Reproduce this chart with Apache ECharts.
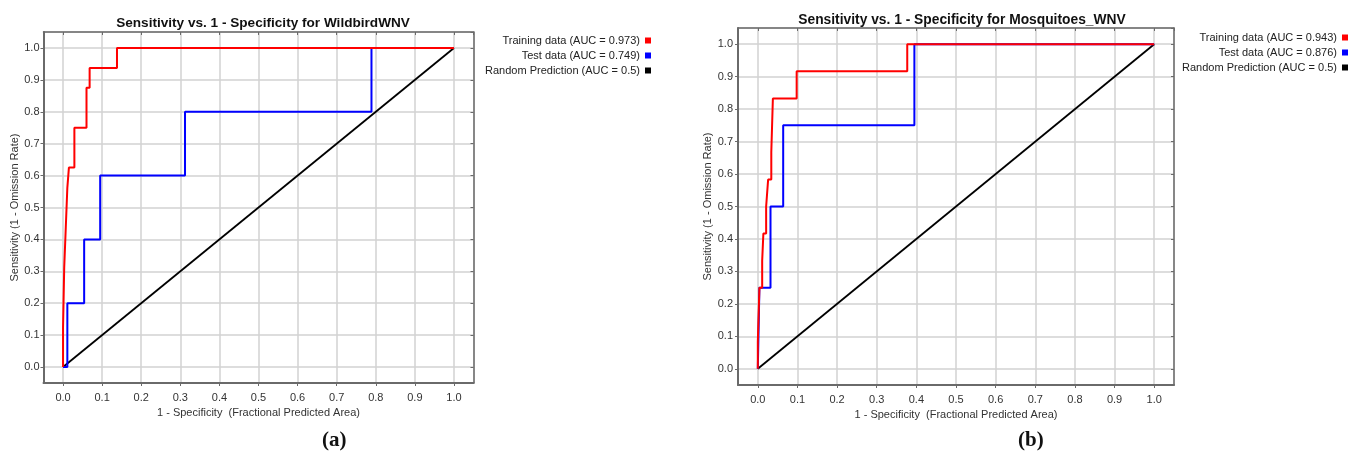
<!DOCTYPE html>
<html>
<head>
<meta charset="utf-8">
<script src="https://cdn.jsdelivr.net/npm/echarts@6/dist/echarts.min.js"></script>
<style>
  html, body { margin: 0; padding: 0; background: #fff; }
  #chart { width: 1358px; height: 458px; }
</style>
</head>
<body>
<div id="chart"></div>
<script>
// ROC 曲线数据 (1 - specificity, sensitivity)
var wildTrain = [[0,0],[0,0.125],[0.003,0.125],[0.003,0.3125],[0.007,0.3125],[0.007,0.4375],[0.011,0.4375],[0.011,0.5625],[0.015,0.5625],[0.015,0.625],[0.029,0.625],[0.029,0.75],[0.06,0.75],[0.06,0.875],[0.068,0.875],[0.068,0.9375],[0.138,0.9375],[0.138,1],[1,1]];
var wildTest = [[0,0],[0.011,0],[0.011,0.2],[0.054,0.2],[0.054,0.4],[0.095,0.4],[0.095,0.6],[0.312,0.6],[0.312,0.8],[0.789,0.8],[0.789,1],[1,1]];
var mosqTrain = [[0,0],[0,0.083],[0.002,0.083],[0.002,0.167],[0.004,0.167],[0.004,0.25],[0.011,0.25],[0.011,0.333],[0.014,0.333],[0.014,0.417],[0.021,0.417],[0.021,0.5],[0.026,0.5],[0.026,0.583],[0.034,0.583],[0.034,0.667],[0.038,0.667],[0.038,0.833],[0.098,0.833],[0.098,0.917],[0.377,0.917],[0.377,1],[1,1]];
var mosqTest = [[0,0],[0.004,0],[0.004,0.25],[0.032,0.25],[0.032,0.5],[0.064,0.5],[0.064,0.75],[0.395,0.75],[0.395,1],[1,1]];
var randomLine = [[0,0],[1,1]];

var titles = ['Sensitivity vs. 1 - Specificity for WildbirdWNV', 'Sensitivity vs. 1 - Specificity for Mosquitoes_WNV'];
var legendNames = [
    ['Training data (AUC = 0.973)', 'Test data (AUC = 0.749)', 'Random Prediction (AUC = 0.5)'],
    ['Training data (AUC = 0.943)', 'Test data (AUC = 0.876)', 'Random Prediction (AUC = 0.5)']
];
var panelLabels = ['(a)', '(b)'];
var xName = '1 - Specificity  (Fractional Predicted Area)';
var yName = 'Sensitivity (1 - Omission Rate)';

var font = 'Liberation Sans, Arial, sans-serif';
var borderColor = '#6a6a6a';

function mainX(grid, gap){
    return {
        type: 'value', gridIndex: grid, position: 'bottom',
        min: -0.05, max: 1.05, splitNumber: 11,
        name: xName, nameLocation: 'middle', nameGap: gap,
        nameTextStyle: {fontFamily: font, fontSize: 11, color: '#333'},
        axisLine: {show: true, onZero: false, lineStyle: {color: borderColor, width: 2}},
        axisTick: {show: true, length: 3, lineStyle: {color: borderColor}},
        axisLabel: {
            fontFamily: font, fontSize: 11, color: '#333', margin: 9,
            showMinLabel: false, showMaxLabel: false,
            formatter: function(v){ return v.toFixed(1); }
        },
        splitLine: {show: true, lineStyle: {color: '#d2d2d2', width: 1.5}}
    };
}
function mainY(grid, gap, margin){
    return {
        type: 'value', gridIndex: grid, position: 'left',
        min: -0.05, max: 1.05, splitNumber: 11,
        name: yName, nameLocation: 'middle', nameGap: gap,
        nameTextStyle: {fontFamily: font, fontSize: 11, color: '#333'},
        axisLine: {show: true, onZero: false, lineStyle: {color: borderColor, width: 2}},
        axisTick: {show: true, length: 3, lineStyle: {color: borderColor}},
        axisLabel: {
            fontFamily: font, fontSize: 11, color: '#333', margin: margin,
            showMinLabel: false, showMaxLabel: false,
            formatter: function(v){ return v.toFixed(1); }
        },
        splitLine: {show: true, lineStyle: {color: '#d2d2d2', width: 1.5}}
    };
}
// 上边和右边的框线（只画线和内侧刻度）
function frameAxis(grid, pos){
    return {
        type: 'value', gridIndex: grid, position: pos,
        min: -0.05, max: 1.05, splitNumber: 11,
        axisLine: {show: true, onZero: false, lineStyle: {color: borderColor, width: 1.5}},
        axisTick: {show: true, inside: true, length: 3, lineStyle: {color: borderColor}},
        axisLabel: {show: false},
        splitLine: {show: false}
    };
}
function lineSeries(name, data, color, width, xi, yi, z){
    return {
        name: name, type: 'line', data: data,
        xAxisIndex: xi, yAxisIndex: yi,
        showSymbol: false, symbol: 'none', z: z,
        lineStyle: {color: color, width: width},
        itemStyle: {color: color}
    };
}

var myChart = echarts.init(document.getElementById('chart'));
var option = {
    animation: false,
    backgroundColor: '#fff',
    title: [
        {text: titles[0], left: 258, top: 11, textAlign: 'center',
         textStyle: {fontFamily: font, fontSize: 13.6, fontWeight: 'bold', color: '#111'}},
        {text: titles[1], left: 957, top: 8, textAlign: 'center',
         textStyle: {fontFamily: font, fontSize: 13.8, fontWeight: 'bold', color: '#111'}}
    ],
    legend: [
        {data: legendNames[0], orient: 'vertical', align: 'right', right: 707, top: 35, padding: 0,
         itemWidth: 6, itemHeight: 6, itemGap: 4, icon: 'rect', selectedMode: false,
         textStyle: {fontFamily: font, fontSize: 11, color: '#222'}},
        {data: legendNames[1], orient: 'vertical', align: 'right', right: 10, top: 32, padding: 0,
         itemWidth: 6, itemHeight: 6, itemGap: 4, icon: 'rect', selectedMode: false,
         textStyle: {fontFamily: font, fontSize: 11, color: '#222'}}
    ],
    grid: [
        {left: 43.5, top: 32, width: 430, height: 351},
        {left: 738, top: 28, width: 436, height: 357}
    ],
    xAxis: [
        mainX(0, 22), frameAxis(0, 'top'),
        mainX(1, 23), frameAxis(1, 'top')
    ],
    yAxis: [
        mainY(0, 18, 4), frameAxis(0, 'right'),
        mainY(1, 18, 5), frameAxis(1, 'right')
    ],
    series: [
        lineSeries(legendNames[0][2], randomLine, '#000', 1.8, 0, 0, 2),
        lineSeries(legendNames[0][1], wildTest, '#0000ff', 2, 0, 0, 3),
        lineSeries(legendNames[0][0], wildTrain, '#ff0000', 2, 0, 0, 4),
        lineSeries(legendNames[1][2], randomLine, '#000', 1.8, 2, 2, 2),
        lineSeries(legendNames[1][1], mosqTest, '#0000ff', 2, 2, 2, 3),
        lineSeries(legendNames[1][0], mosqTrain, '#ff0000', 2, 2, 2, 4)
    ],
    graphic: [
        {type: 'text', left: 322, top: 430, style: {text: panelLabels[0], font: 'bold 21px "Liberation Serif", "DejaVu Serif", serif', fill: '#111'}},
        {type: 'text', left: 1018, top: 430, style: {text: panelLabels[1], font: 'bold 21px "Liberation Serif", "DejaVu Serif", serif', fill: '#111'}}
    ]
};
myChart.setOption(option);
</script>
</body>
</html>
